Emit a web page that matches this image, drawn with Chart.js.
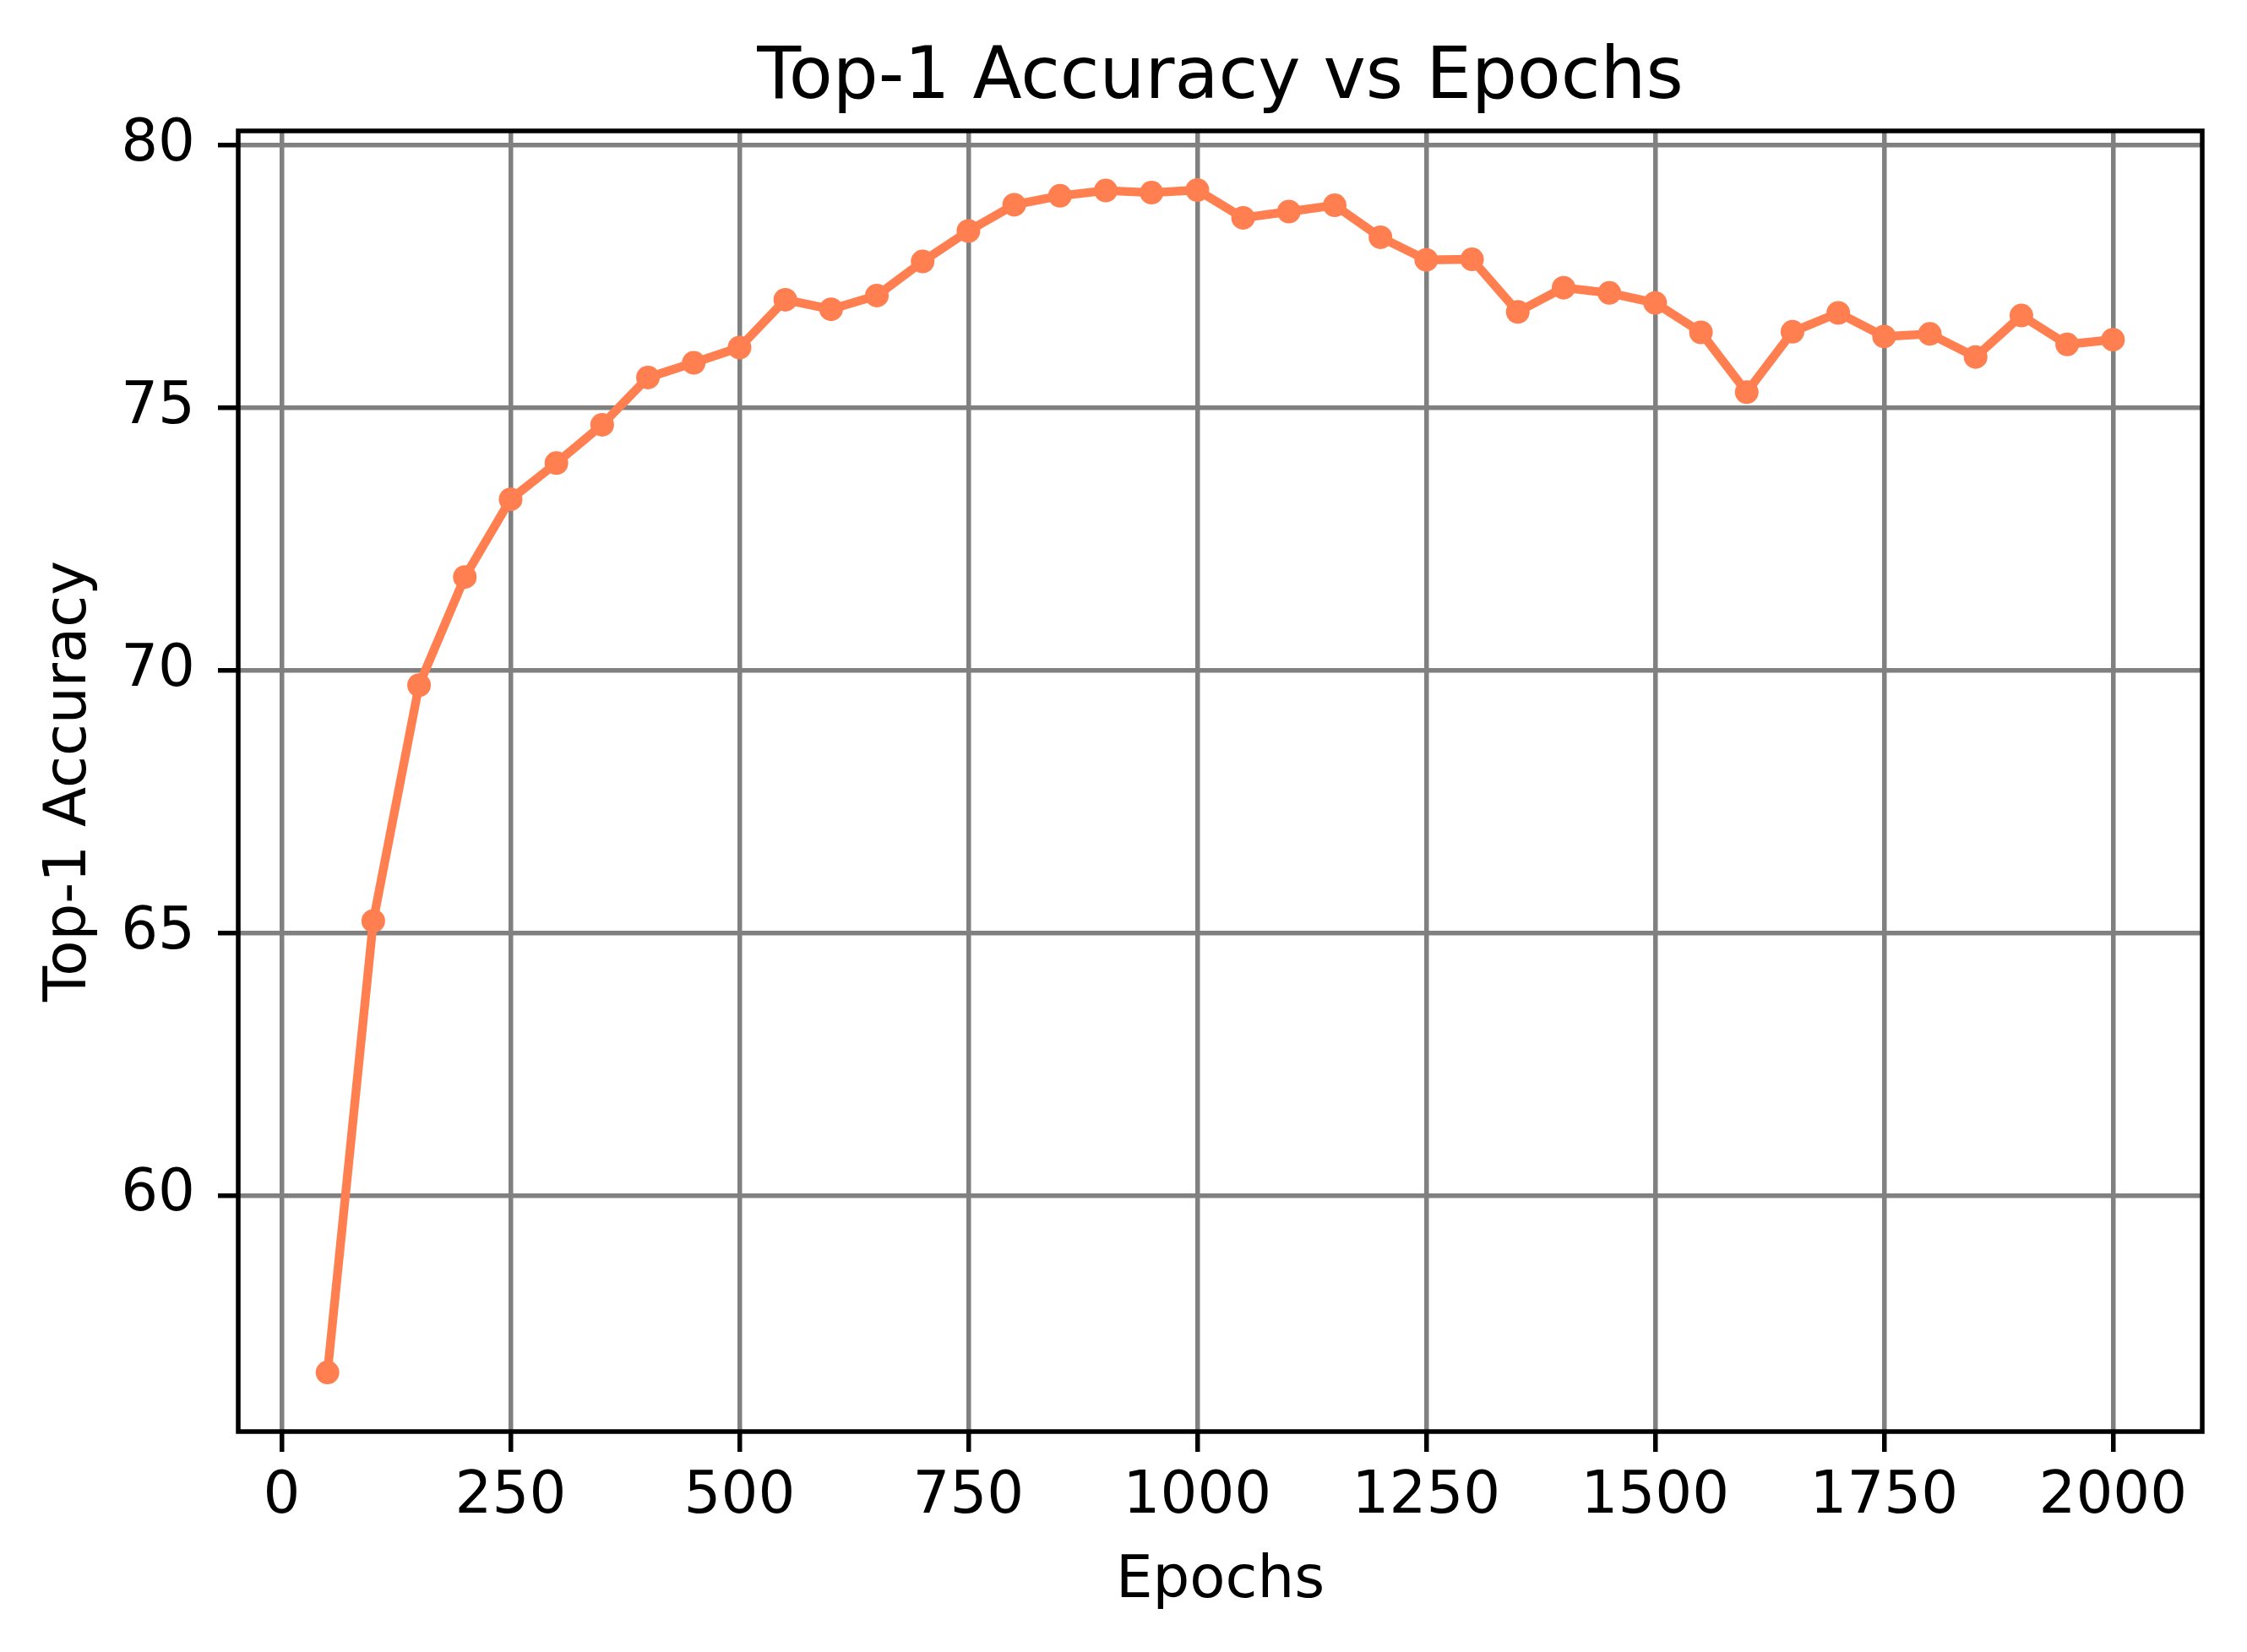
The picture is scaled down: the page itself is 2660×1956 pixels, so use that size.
<!DOCTYPE html>
<html>
<head>
<meta charset="utf-8">
<title>Top-1 Accuracy vs Epochs</title>
<script src="https://cdn.jsdelivr.net/npm/chart.js@4.4.1/dist/chart.umd.min.js"></script>
<style>
  html, body { margin: 0; padding: 0; background: #fff; }
  #accuracyChart { display: block; }
</style>
</head>
<body>
<canvas id="accuracyChart" width="2660" height="1956"></canvas>
<script>
// data
const epochs = [50, 100, 150, 200, 250, 300, 350, 400, 450, 500,
                550, 600, 650, 700, 750, 800, 850, 900, 950, 1000,
                1050, 1100, 1150, 1200, 1250, 1300, 1350, 1400, 1450, 1500,
                1550, 1600, 1650, 1700, 1750, 1800, 1850, 1900, 1950, 2000];
const top1Accuracy = [56.63, 65.23, 69.72, 71.78, 73.26, 73.95, 74.68, 75.58, 75.86, 76.15,
                      77.06, 76.88, 77.14, 77.79, 78.37, 78.87, 79.04, 79.14, 79.10, 79.15,
                      78.62, 78.74, 78.86, 78.25, 77.82, 77.83, 76.83, 77.29, 77.19, 77.00,
                      76.44, 75.30, 76.45, 76.81, 76.36, 76.41, 75.97, 76.76, 76.21, 76.30];
const xTicks = [0, 250, 500, 750, 1000, 1250, 1500, 1750, 2000];
const yTicks = [60, 65, 70, 75, 80];

const X_MIN = -47.5, X_MAX = 2097.5;
const Y_MIN = 55.505, Y_MAX = 80.276;

Chart.defaults.font.family = "'DejaVu Sans', sans-serif";
Chart.defaults.color = '#000';

// matplotlib-style box around the axes
const frame = {
    id: 'frame',
    afterDatasetsDraw(chart) {
        const { ctx, chartArea: a } = chart;
        ctx.save();
        ctx.strokeStyle = '#000';
        ctx.lineWidth = 5.5;
        ctx.strokeRect(a.left, a.top, a.right - a.left, a.bottom - a.top);
        ctx.restore();
    }
};

const gridOpts = {
    color: '#808080',
    lineWidth: 5.5,
    tickColor: '#000',
    tickLength: 24,
    tickWidth: 5.5
};

const ctx = document.getElementById('accuracyChart').getContext('2d');
const accuracyChart = new Chart(ctx, {
    type: 'line',
    data: {
        datasets: [{
            label: 'Top-1 Accuracy',
            data: epochs.map((e, i) => ({ x: e, y: top1Accuracy[i] })),
            borderColor: '#FF7F50',
            backgroundColor: '#FF7F50',
            borderWidth: 10.4,
            borderJoinStyle: 'round',
            pointRadius: 14,
            pointBorderWidth: 0,
            pointBackgroundColor: '#FF7F50',
            tension: 0,
            fill: false
        }]
    },
    options: {
        responsive: false,
        animation: false,
        devicePixelRatio: 1,
        layout: { autoPadding: false, padding: { left: 0, right: 53, top: 0, bottom: 0 } },
        plugins: {
            legend: { display: false },
            tooltip: { enabled: false },
            title: { display: false }
        },
        scales: {
            x: {
                type: 'linear',
                position: 'bottom',
                min: X_MIN,
                max: X_MAX,
                afterBuildTicks: axis => { axis.ticks = xTicks.map(v => ({ value: v })); },
                afterFit: scale => { scale.height = 261; },
                grid: gridOpts,
                border: { display: false },
                ticks: {
                    font: { size: 69, lineHeight: 1 },
                    color: '#000',
                    padding: 20,
                    maxRotation: 0,
                    autoSkip: false,
                    callback: v => String(v)
                },
                title: {
                    display: true,
                    text: 'Epochs',
                    color: '#000',
                    font: { size: 69, lineHeight: 1 },
                    padding: { top: 0, bottom: 48 }
                }
            },
            xTop: {
                type: 'linear',
                position: 'top',
                min: X_MIN,
                max: X_MAX,
                afterFit: scale => { scale.height = 155; },
                grid: { display: false },
                border: { display: false },
                ticks: { display: false },
                title: {
                    display: true,
                    text: 'Top-1 Accuracy vs Epochs',
                    color: '#000',
                    font: { size: 85, lineHeight: 1 },
                    padding: { top: 51, bottom: 0 }
                }
            },
            y: {
                type: 'linear',
                position: 'left',
                min: Y_MIN,
                max: Y_MAX,
                afterBuildTicks: axis => { axis.ticks = yTicks.map(v => ({ value: v })); },
                afterFit: scale => { scale.width = 282; },
                grid: gridOpts,
                border: { display: false },
                ticks: {
                    font: { size: 69, lineHeight: 1 },
                    color: '#000',
                    padding: 27,
                    autoSkip: false,
                    callback: v => String(v)
                },
                title: {
                    display: true,
                    text: 'Top-1 Accuracy',
                    color: '#000',
                    font: { size: 69, lineHeight: 1 },
                    padding: { top: 49, bottom: 0 }
                }
            }
        }
    },
    plugins: [frame]
});
</script>
</body>
</html>
